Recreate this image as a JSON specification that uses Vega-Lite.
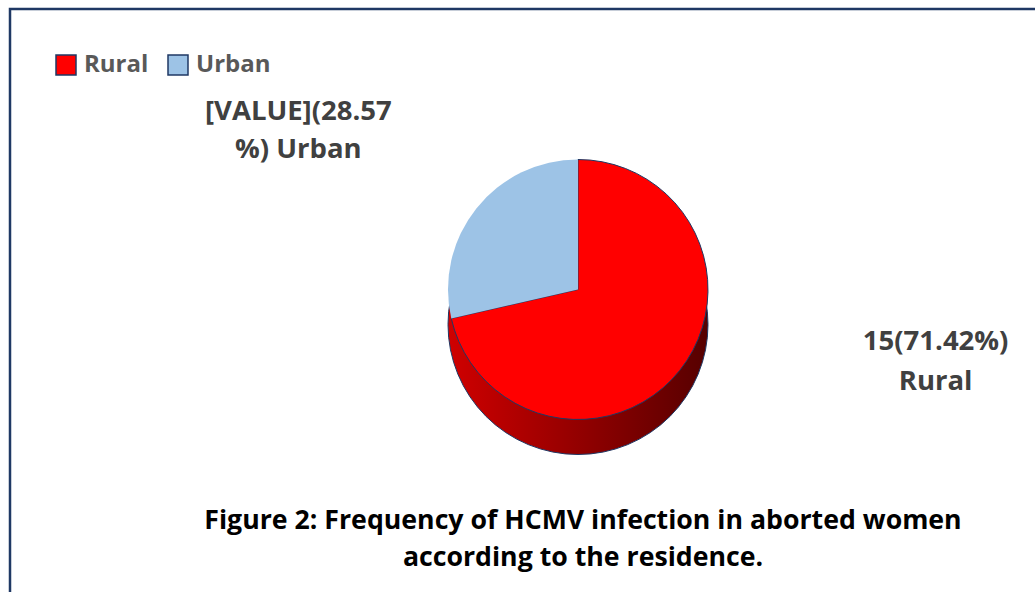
{
  "$schema": "https://vega.github.io/schema/vega-lite/v6.json",
  "width": 1035,
  "height": 592,
  "autosize": {"type": "fit", "contains": "padding"},
  "padding": {"left": 8, "top": 7, "right": -6, "bottom": -6},
  "background": "white",
  "config": {"view": {"stroke": null}, "font": "Open Sans"},
  "data": {
    "values": [
      {"residence": "Rural", "count": 15, "label": "15(71.42%)\nRural"},
      {"residence": "Urban", "count": 6, "label": "[VALUE](28.57\n%) Urban"}
    ]
  },
  "layer": [
    {
      "data": {"values": [{}]},
      "mark": {"type": "rect", "fill": null, "stroke": "#1f3864", "strokeWidth": 2.5},
      "encoding": {}
    },
    {
      "mark": {
        "type": "arc",
        "radius": 130,
        "xOffset": 53.5,
        "yOffset": 22,
        "fill": {
          "gradient": "linear",
          "x1": 0, "x2": 1, "y1": 0, "y2": 0,
          "stops": [
            {"offset": 0, "color": "#d00000"},
            {"offset": 1, "color": "#560000"}
          ]
        },
        "stroke": "#1f3864",
        "strokeWidth": 1
      },
      "encoding": {
        "theta": {"aggregate": "sum", "field": "count", "type": "quantitative"}
      }
    },
    {
      "mark": {
        "type": "arc",
        "radius": 130,
        "xOffset": 53.5,
        "yOffset": -13,
        "stroke": "#1f3864"
      },
      "encoding": {
        "theta": {"field": "count", "type": "quantitative", "stack": true},
        "strokeWidth": {"condition": {"test": "datum.residence === 'Urban'", "value": 0}, "value": 1},
        "color": {
          "field": "residence",
          "type": "nominal",
          "scale": {"domain": ["Rural", "Urban"], "range": ["#ff0000", "#9dc3e6"]},
          "legend": {
            "title": null,
            "orient": "none",
            "direction": "horizontal",
            "legendX": 44,
            "legendY": 44,
            "symbolType": "square",
            "symbolSize": 400,
            "labelFont": "Open Sans",
            "labelFontSize": 24,
            "labelFontWeight": "bold",
            "labelColor": "#595959",
            "labelOffset": 6,
            "columnPadding": 16,
            "encode": {
              "symbols": {
                "update": {
                  "size": {"signal": "datum.value === 'Urban' ? 110 : 400"},
                  "strokeWidth": {"signal": "datum.value === 'Urban' ? 0 : 3"},
                  "stroke": {"value": "#1f3864"}
                }
              }
            }
          }
        }
      }
    },
    {
      "mark": {
        "type": "text",
        "radius": 130,
        "xOffset": 53.5,
        "yOffset": -13,
        "dx": -178,
        "dy": -96,
        "lineBreak": "\n",
        "lineHeight": 38,
        "fontSize": 27.5,
        "fontWeight": "bold",
        "color": "#404040",
        "align": "center",
        "baseline": "middle"
      },
      "encoding": {
        "theta": {"field": "count", "type": "quantitative", "stack": true},
        "text": {"condition": {"test": "datum.residence === 'Urban'", "field": "label"}, "value": ""}
      }
    },
    {
      "mark": {
        "type": "text",
        "radius": 130,
        "xOffset": 53.5,
        "yOffset": -13,
        "dx": 256,
        "dy": -29,
        "lineBreak": "\n",
        "lineHeight": 40,
        "fontSize": 27.5,
        "fontWeight": "bold",
        "color": "#404040",
        "align": "center",
        "baseline": "middle"
      },
      "encoding": {
        "theta": {"field": "count", "type": "quantitative", "stack": true},
        "text": {"condition": {"test": "datum.residence === 'Rural'", "field": "label"}, "value": ""}
      }
    },
    {
      "data": {"values": [{}]},
      "mark": {
        "type": "text",
        "text": ["Figure 2: Frequency of HCMV infection in aborted women", "according to the residence."],
        "xOffset": 58.5,
        "dy": 218,
        "lineHeight": 37,
        "fontSize": 26.7,
        "fontWeight": "bold",
        "color": "#000000",
        "align": "center",
        "baseline": "middle"
      },
      "encoding": {}
    }
  ]
}
